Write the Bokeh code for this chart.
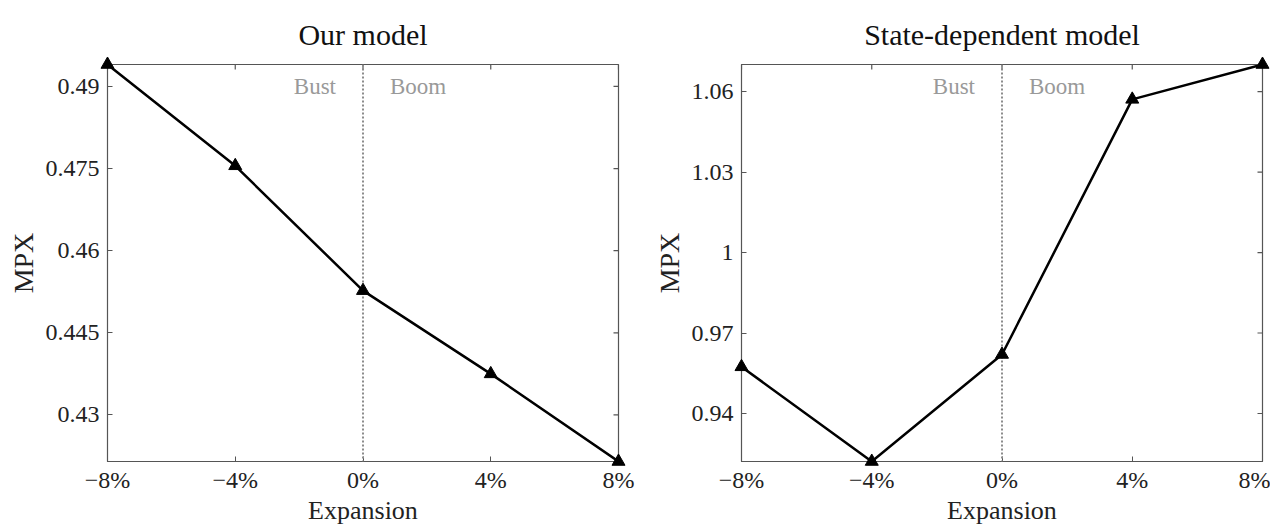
import math
from bokeh.plotting import figure
from bokeh.models import Range1d, FixedTicker, Span, Label
from bokeh.layouts import row
from bokeh.embed import file_html
from bokeh.resources import INLINE

# ---- data ----
expansion = [-8, -4, 0, 4, 8]
x_tick_labels = ["\u22128%", "\u22124%", "0%", "4%", "8%"]

our_model = [0.4940, 0.4755, 0.4527, 0.4375, 0.4215]
our_ticks = [0.43, 0.445, 0.46, 0.475, 0.49]
our_tick_labels = ["0.43", "0.445", "0.46", "0.475", "0.49"]

state_model = [0.9574, 0.9221, 0.9620, 1.0571, 1.0701]
state_ticks = [0.94, 0.97, 1.0, 1.03, 1.06]
state_tick_labels = ["0.94", "0.97", "1", "1.03", "1.06"]

titles = ["Our model", "State-dependent model"]

FONT = "Liberation Serif"
FRAME_COL = "#555555"


def make_panel(title, ys, yticks, ylabels, frame_w, bl, br, bt, bb):
    x0, x1 = expansion[0], expansion[-1]
    y0, y1 = min(ys), max(ys)
    p = figure(output_backend="svg", toolbar_location=None,
               frame_width=frame_w, frame_height=397,
               min_border_left=bl, min_border_right=br,
               min_border_top=bt, min_border_bottom=bb,
               x_range=Range1d(x0, x1), y_range=Range1d(y0, y1),
               x_axis_label="Expansion", y_axis_label="MPX")
    p.title.text = title
    p.title.align = "center"
    p.title.text_font = FONT
    p.title.text_font_size = "30px"
    p.title.text_font_style = "normal"
    p.title.text_color = "#111111"
    p.title.standoff = 27
    p.grid.visible = False
    p.outline_line_color = FRAME_COL
    p.outline_line_width = 1.2
    p.background_fill_color = "white"
    p.border_fill_color = "white"

    xlab = {v: l for v, l in zip(expansion, x_tick_labels)}
    ylab = {v: l for v, l in zip(yticks, ylabels)}

    for ax in p.axis:
        ax.major_tick_in = 5
        ax.major_tick_out = 0
        ax.minor_tick_line_color = None
        ax.axis_line_color = FRAME_COL
        ax.major_tick_line_color = FRAME_COL
        ax.major_label_text_font = FONT
        ax.major_label_text_font_size = "24px"
        ax.major_label_text_color = "#222222"
        ax.axis_label_text_font = FONT
        ax.axis_label_text_font_style = "normal"
        ax.axis_label_text_color = "#222222"
    for ax in p.xaxis:
        ax.ticker = FixedTicker(ticks=expansion)
        ax.major_label_overrides = xlab
        ax.major_label_standoff = 5
        ax.axis_label_standoff = 0
        ax.axis_label_text_font_size = "26px"
    for ax in p.yaxis:
        ax.ticker = FixedTicker(ticks=yticks)
        ax.major_label_overrides = ylab
        ax.major_label_standoff = 8
        ax.axis_label_standoff = 4
        ax.axis_label_text_font_size = "28px"

    # mirrored inward ticks on right and top (half of each dash is clipped by the frame)
    p.scatter([x1] * len(yticks), yticks, marker="dash", size=10,
              line_color=FRAME_COL, line_width=1.2)
    p.scatter(expansion, [y1] * len(expansion), marker="dash", size=10,
              angle=math.pi / 2, line_color=FRAME_COL, line_width=1.2)

    p.add_layout(Span(location=0, dimension="height", line_color="#8c8c8c",
                      line_width=2, line_dash="2 2"))

    p.line(expansion, ys, line_color="black", line_width=2.5)
    p.scatter(expansion, ys, marker="triangle", size=13,
              fill_color="black", line_color="black", level="overlay")

    p.add_layout(Label(x=0, y=y1, x_offset=-27, y_offset=-22, text="Bust",
                       text_align="right", text_baseline="middle",
                       text_font=FONT, text_font_size="23px", text_color="#999999"))
    p.add_layout(Label(x=0, y=y1, x_offset=27, y_offset=-22, text="Boom",
                       text_align="left", text_baseline="middle",
                       text_font=FONT, text_font_size="23px", text_color="#999999"))
    return p


p1 = make_panel(titles[0], our_model, our_ticks, our_tick_labels, 511, 107, 24, 64, 60)
p2 = make_panel(titles[1], state_model, state_ticks, state_tick_labels, 521, 99, 8, 64, 60)

layout = row(p1, p2)
open("out.html", "w").write(file_html(layout, INLINE))
